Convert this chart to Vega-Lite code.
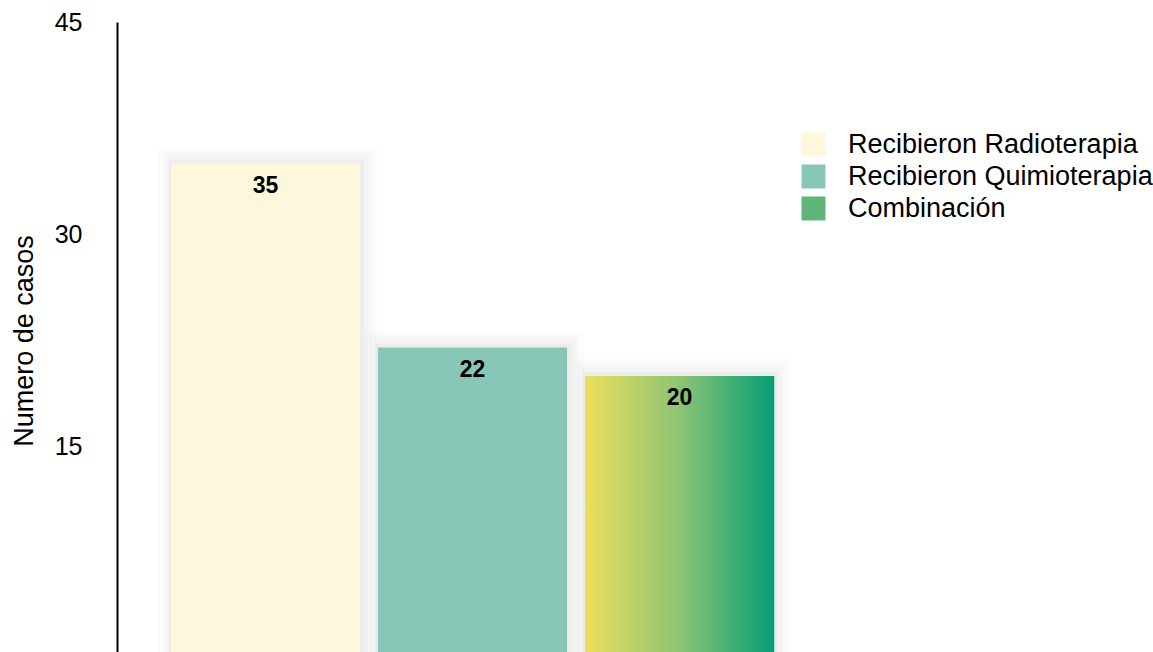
{
  "$schema": "https://vega.github.io/schema/vega-lite/v6.json",
  "autosize": {"type": "none"},
  "padding": {"left": 117, "top": 22, "right": 330, "bottom": 0},
  "width": 711,
  "height": 637,
  "config": {"font": "Liberation Sans", "view": {"stroke": null}},
  "data": {"values": [
    {"grupo": "Recibieron Radioterapia", "casos": 35},
    {"grupo": "Recibieron Quimioterapia", "casos": 22},
    {"grupo": "Combinación", "casos": 20}
  ]},
  "encoding": {
    "x": {"field": "grupo", "type": "nominal", "sort": null, "axis": null,
          "scale": {"paddingInner": 0.0865, "paddingOuter": 0.26}},
    "y": {"field": "casos", "type": "quantitative",
          "scale": {"domain": [0, 45], "nice": false},
          "axis": {"values": [15, 30, 45], "ticks": false, "grid": false,
                   "domainColor": "#000000", "domainWidth": 2,
                   "labelFontSize": 25, "labelColor": "#000000", "labelPadding": 35,
                   "title": "Numero de casos", "titleFontSize": 27, "titleFontWeight": "normal",
                   "titleColor": "#000000", "titlePadding": 16}}
  },
  "layer": [
    {
      "mark": {"type": "bar", "fill": "#ffffff", "fillOpacity": 0, "stroke": "#000000", "strokeWidth": 30, "strokeOpacity": 0.01, "xOffset": 2, "yOffset": -2}
    },
    {
      "mark": {"type": "bar", "fill": "#ffffff", "fillOpacity": 0, "stroke": "#000000", "strokeWidth": 20, "strokeOpacity": 0.014, "xOffset": 2, "yOffset": -2}
    },
    {
      "mark": {"type": "bar", "fill": "#ffffff", "fillOpacity": 0, "stroke": "#000000", "strokeWidth": 12, "strokeOpacity": 0.02, "xOffset": 2, "yOffset": -2}
    },
    {
      "mark": {"type": "bar", "fill": "#ffffff", "fillOpacity": 0, "stroke": "#000000", "strokeWidth": 6, "strokeOpacity": 0.025, "xOffset": 1, "yOffset": -1}
    },
    {
      "mark": {"type": "bar"},
      "encoding": {
        "color": {"field": "grupo", "type": "nominal",
          "scale": {"domain": ["Recibieron Radioterapia", "Recibieron Quimioterapia", "Combinación"],
                    "range": ["#fdf8dc", "#88c6b8", "#5fb57a"]},
          "legend": {"orient": "none", "legendX": 683, "legendY": 109, "title": null,
                     "symbolType": "square", "symbolSize": 576, "symbolStrokeWidth": 0,
                     "labelFontSize": 27, "labelColor": "#000000", "labelOffset": 21,
                     "rowPadding": 4, "labelLimit": 400}}
      }
    },
    {
      "transform": [{"filter": "datum.grupo === 'Combinación'"}],
      "mark": {"type": "bar",
               "color": {"gradient": "linear", "x1": 0, "y1": 0, "x2": 1, "y2": 0,
                         "stops": [{"offset": 0, "color": "#ecdf5c"}, {"offset": 0.5, "color": "#8cc474"}, {"offset": 1, "color": "#069e76"}]}}
    },
    {
      "mark": {"type": "text", "fontSize": 23, "fontWeight": "bold", "color": "#000000",
               "baseline": "middle", "dy": 22},
      "encoding": {"text": {"field": "casos", "type": "quantitative"}}
    }
  ]
}
